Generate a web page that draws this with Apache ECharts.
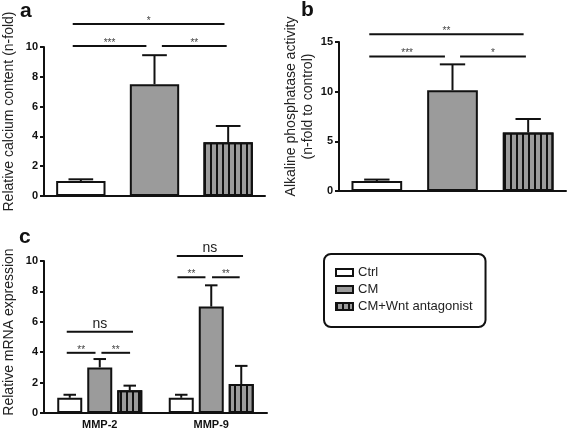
<!DOCTYPE html>
<html><head><meta charset="utf-8">
<script src="https://cdn.jsdelivr.net/npm/echarts@6/dist/echarts.min.js"></script>
<style>html,body{margin:0;padding:0;background:#fff}#c{width:567px;height:431px}</style>
</head><body><div id="c"></div>
<script>
// ---- data ----
const groups = ['Ctrl', 'CM', 'CM+Wnt antagonist'];
const calciumMean = [1.0, 7.5, 3.6];
const calciumUpper = [1.12, 9.45, 4.7];
const alpMean = [1.0, 10.15, 5.9];
const alpUpper = [1.15, 12.75, 7.25];
const genes = ['MMP-2', 'MMP-9'];
const mmpCtrl = [1.0, 1.0];
const mmpCtrlUpper = [1.2, 1.2];
const mmpCM = [3.0, 7.0];
const mmpCMUpper = [3.55, 8.4];
const mmpWnt = [1.5, 1.9];
const mmpWntUpper = [1.8, 3.1];
const axisA = [0, 10, 2];
const axisB = [0, 15, 5];
const axisC = [0, 10, 2];
// significance bars: [startCat, startOffset(frac of band), endCat, endOffset, y]
const sigA = [[0, -0.11, 1, -0.11, 10.07], [1, 0.10, 2, -0.02, 10.07], [0, -0.11, 2, -0.05, 11.54]];
const sigALabels = ['***', '**', '*'];
const sigB = [[0, -0.10, 1, -0.10, 13.53], [1, 0.10, 2, -0.03, 13.53], [0, -0.10, 2, -0.06, 15.78]];
const sigBLabels = ['***', '*', '**'];
const sigC = [[0, -0.296, 0, -0.038, 3.96], [0, 0.015, 0, 0.272, 3.96], [0, -0.296, 0, 0.298, 5.34],
              [1, -0.303, 1, -0.052, 8.93], [1, 0.007, 1, 0.255, 8.93], [1, -0.309, 1, 0.285, 10.33]];
const sigCLabels = ['**', '**', 'ns', '**', '**', 'ns'];

// ---- styles ----
const FONT = 'Liberation Sans, Arial, sans-serif';
const INK = '#111';
const fills = ['#ffffff', '#9b9b9b', '#9b9b9b'];
const stripeDecal = { symbol: 'rect', symbolSize: 1, dashArrayX: [2, 4], dashArrayY: [4, 0], color: INK, rotation: 0 };
function itemStyle(i) {
  const s = { color: fills[i], borderColor: INK, borderWidth: 2 };
  if (i === 2) s.decal = stripeDecal;
  return s;
}

const chart = echarts.init(document.getElementById('c'), null, { renderer: 'canvas' });

function yAxis(gi, ax, name, gap, pad) {
  return {
    type: 'value', gridIndex: gi, min: ax[0], max: ax[1], interval: ax[2],
    splitLine: { show: false },
    axisLine: { show: true, lineStyle: { color: INK, width: 2 } },
    axisTick: { show: true, length: 4, lineStyle: { color: INK, width: 2 } },
    axisLabel: { fontFamily: FONT, fontSize: 11, fontWeight: 'bold', color: INK, margin: 6 },
    name: name, nameLocation: 'middle', nameRotate: 90, nameGap: gap,
    nameTextStyle: { fontFamily: FONT, fontSize: 14, color: '#222', lineHeight: 17, padding: pad }
  };
}
function xAxis(gi, cats, showLabel) {
  return {
    type: 'category', gridIndex: gi, data: cats,
    axisLine: { show: true, lineStyle: { color: INK, width: 2 } },
    axisTick: { show: false },
    axisLabel: { show: showLabel, fontFamily: FONT, fontSize: 11, fontWeight: 'bold', color: INK, margin: 6 }
  };
}

function errRender(step) {
  return function (params, api) {
    const c = api.value(0), m = api.value(1), u = api.value(2), k = api.value(3);
    const p0 = api.coord([c, m]), p1 = api.coord([c, u]);
    const bw = api.size([1, 0])[0];
    const barW = step === 0 ? bw * 0.67 : step - 5;
    const x = p0[0] + (k - 1) * step;
    const cap = barW / 4;
    return {
      type: 'group', children: [
        { type: 'line', shape: { x1: x, y1: p0[1], x2: x, y2: p1[1] }, style: { stroke: INK, lineWidth: 2 } },
        { type: 'line', shape: { x1: x - cap, y1: p1[1], x2: x + cap, y2: p1[1] }, style: { stroke: INK, lineWidth: 2 } }
      ]
    };
  };
}
function sigRender(labels) {
  return function (params, api) {
    const bw = api.size([1, 0])[0];
    const y = api.value(4);
    const a = api.coord([api.value(0), y]), b = api.coord([api.value(2), y]);
    const x1 = a[0] + api.value(1) * bw, x2 = b[0] + api.value(3) * bw;
    const lab = labels[params.dataIndex];
    const isNs = lab === 'ns';
    return {
      type: 'group', children: [
        { type: 'line', shape: { x1: x1, y1: a[1], x2: x2, y2: a[1] }, style: { stroke: INK, lineWidth: 2 } },
        { type: 'text', style: { text: lab, x: (x1 + x2) / 2, y: isNs ? a[1] - 1 : a[1] + 2,
            align: 'center', verticalAlign: 'bottom', textAlign: 'center', textVerticalAlign: 'bottom',
            fontFamily: FONT, fontSize: isNs ? 14 : 10, fill: isNs ? '#222' : '#444' } }
      ]
    };
  };
}

const series = [];
// panels a and b
[[0, calciumMean, calciumUpper], [1, alpMean, alpUpper]].forEach(function (p) {
  const gi = p[0], mean = p[1], up = p[2];
  groups.forEach(function (g, i) {
    series.push({
      type: 'bar', name: g, xAxisIndex: gi, yAxisIndex: gi, barWidth: '67%', barGap: '-100%',
      itemStyle: itemStyle(i), emphasis: { disabled: true },
      data: mean.map(function (v, j) { return j === i ? v : '-'; })
    });
  });
  series.push({
    type: 'custom', xAxisIndex: gi, yAxisIndex: gi, renderItem: errRender(0), z: 1,
    encode: { x: 0, y: [1, 2] },
    data: mean.map(function (v, j) { return [j, v, up[j], 1]; })
  });
});
// panel c
const cMeans = [mmpCtrl, mmpCM, mmpWnt], cUps = [mmpCtrlUpper, mmpCMUpper, mmpWntUpper];
groups.forEach(function (g, i) {
  series.push({
    type: 'bar', name: g, xAxisIndex: 2, yAxisIndex: 2, barWidth: 25, barGap: '20%',
    itemStyle: itemStyle(i), emphasis: { disabled: true }, data: cMeans[i]
  });
});
const errC = [];
cMeans.forEach(function (arr, k) { arr.forEach(function (v, j) { errC.push([j, v, cUps[k][j], k]); }); });
series.push({ type: 'custom', xAxisIndex: 2, yAxisIndex: 2, renderItem: errRender(30), z: 1,
  encode: { x: 0, y: [1, 2] }, data: errC });
// significance
[[0, sigA, sigALabels], [1, sigB, sigBLabels], [2, sigC, sigCLabels]].forEach(function (p) {
  series.push({ type: 'custom', xAxisIndex: p[0], yAxisIndex: p[0], renderItem: sigRender(p[2]),
    clip: false, silent: true, encode: { x: 0, y: 4 }, data: p[1] });
});

chart.setOption({
  animation: false,
  grid: [
    { left: 39, top: 47, width: 226, height: 149 },
    { left: 339, top: 42, width: 227, height: 149 },
    { left: 39, top: 261, width: 228, height: 152 }
  ],
  xAxis: [xAxis(0, groups, false), xAxis(1, groups, false), xAxis(2, genes, true)],
  yAxis: [
    yAxis(0, axisA, 'Relative calcium content (n-fold)', 26, [0, 0, 0, 20]),
    yAxis(1, axisB, 'Alkaline phosphatase activity\n(n-fold to control)', 22, [0, 0, 0, 20]),
    yAxis(2, axisC, 'Relative mRNA expression', 26, [0, 0, 0, 10])
  ],
  legend: {
    data: groups, orient: 'vertical', left: 324, top: 254, icon: 'rect',
    itemWidth: 17, itemHeight: 7, itemGap: 4,
    padding: [12, 13, 14, 11], borderColor: INK, borderWidth: 2, borderRadius: 7,
    textStyle: { fontFamily: FONT, fontSize: 13, color: '#222' }
  },
  graphic: [
    { type: 'text', left: 20, top: 1, style: { text: 'a', font: 'bold 21px ' + FONT, fill: INK } },
    { type: 'text', left: 301, top: 0, style: { text: 'b', font: 'bold 21px ' + FONT, fill: INK } },
    { type: 'text', left: 19, top: 227, style: { text: 'c', font: 'bold 21px ' + FONT, fill: INK } }
  ],
  series: series
});
</script></body></html>
